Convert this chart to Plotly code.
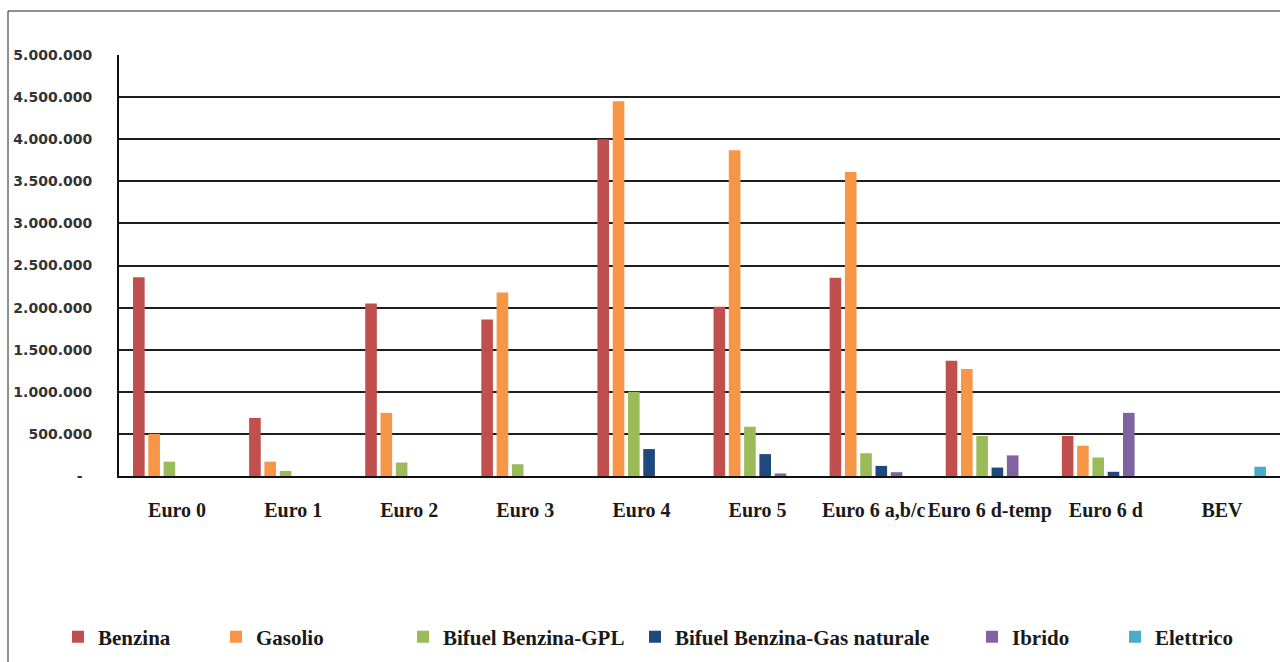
import plotly.graph_objects as go

categories = ["Euro 0", "Euro 1", "Euro 2", "Euro 3", "Euro 4", "Euro 5",
              "Euro 6 a,b/c", "Euro 6 d-temp", "Euro 6 d", "BEV"]
benzina = [2360000, 690000, 2050000, 1860000, 4000000, 2010000, 2355000, 1370000, 475000, 0]
gasolio = [500000, 170000, 750000, 2180000, 4450000, 3870000, 3610000, 1270000, 360000, 0]
gpl = [170000, 60000, 160000, 140000, 1000000, 585000, 270000, 475000, 220000, 0]
gas_naturale = [0, 0, 0, 0, 320000, 260000, 120000, 100000, 50000, 0]
ibrido = [0, 0, 0, 0, 0, 30000, 45000, 245000, 750000, 0]
elettrico = [0, 0, 0, 0, 0, 0, 0, 0, 0, 110000]

series_names = ["Benzina", "Gasolio", "Bifuel Benzina-GPL",
                "Bifuel Benzina-Gas naturale", "Ibrido", "Elettrico"]
series_values = [benzina, gasolio, gpl, gas_naturale, ibrido, elettrico]
colors = ["#C0504D", "#F79646", "#9BBB59", "#1F497D", "#8064A2", "#4BACC6"]

ytickvals = [i * 500000 for i in range(11)]
yticktext = ["-\u00a0\u00a0"] + [f"{v:,}".replace(",", ".") for v in ytickvals[1:]]

# legend text start positions (px) -> legend boxes
legend_text_px = [98, 256, 443, 675, 1012, 1155]
L, R, T, B = 119, 0, 55, 186
W, H = 1280, 662
pw = W - L - R
ph = H - T - B

fig = go.Figure()
legend_layouts = {}
for i, (name, vals, col) in enumerate(zip(series_names, series_values, colors)):
    lname = "legend" if i == 0 else f"legend{i+1}"
    fig.add_trace(go.Bar(name=name, x=categories, y=vals, marker_color=col,
                         marker_line_width=0, legend=lname))
    legend_layouts[lname] = dict(
        x=(legend_text_px[i] - 40 - L) / pw, xanchor="left",
        y=(T + ph - 637) / ph, yanchor="middle",
        orientation="h", bgcolor="rgba(0,0,0,0)", borderwidth=0,
        font=dict(family="Liberation Serif", size=21, color="#1a1a1a", weight="bold"),
    )

fig.update_layout(
    width=W, height=H,
    margin=dict(l=L, r=R, t=T, b=B, pad=0),
    paper_bgcolor="white", plot_bgcolor="white",
    barmode="group", bargap=0.21, bargroupgap=0.24,
    showlegend=True,
    **legend_layouts,
    xaxis=dict(
        type="category", showgrid=False, showline=True, linecolor="#111",
        linewidth=2, ticks="", ticklabelstandoff=15,
        tickfont=dict(family="Liberation Serif", size=20, color="#1a1a1a", weight="bold"),
    ),
    yaxis=dict(
        range=[0, 5000000], tickvals=ytickvals, ticktext=yticktext,
        showgrid=True, gridcolor="#1e1e1e", gridwidth=2,
        showline=True, linecolor="#111", linewidth=2, zeroline=False,
        ticks="", ticklabelstandoff=22,
        tickfont=dict(family="DejaVu Sans", size=14, color="#333333", weight="bold"),
    ),
    shapes=[dict(type="rect", xref="paper", yref="paper",
                 x0=(8 - L) / pw, x1=1.05, y0=-0.6, y1=1 + (T - 11) / ph,
                 line=dict(color="#222", width=1), fillcolor="rgba(0,0,0,0)", layer="below")],
)

fig.write_html("out.html", config={"displayModeBar": False},
               post_script="document.body.style.margin='0px';")
